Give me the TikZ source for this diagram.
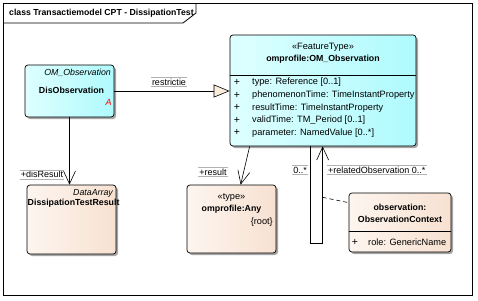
\documentclass[tikz,border=0pt]{standalone}
\usepackage{fontspec}
\setmainfont{Liberation Sans}
\usetikzlibrary{arrows.meta,calc,shadows}
\definecolor{cyanA}{RGB}{222,255,255}
\definecolor{cyanB}{RGB}{175,250,253}
\definecolor{peachA}{RGB}{253,245,239}
\definecolor{peachB}{RGB}{247,225,209}
\definecolor{trifill}{RGB}{250,236,218}
\begin{document}
\begin{tikzpicture}[x=1pt,y=-1pt,
  font=\fontsize{9.2}{10}\selectfont,
  boxbase/.style={draw, line width=0.7pt, rounded corners=3pt, inner sep=0pt,
    drop shadow={shadow xshift=2pt, shadow yshift=-2pt, fill=black!35, opacity=1}},
  cbox/.style={boxbase, left color=cyanA, right color=cyanB},
  pbox/.style={boxbase, left color=peachA, right color=peachB},
  txt/.style={inner sep=0pt},
  plus/.style={inner sep=0pt, font=\fontsize{10.5}{11}\selectfont},
  bold/.style={inner sep=0pt, font=\bfseries\fontsize{8.8}{10}\selectfont},
  ital/.style={inner sep=0pt, font=\itshape\fontsize{8.8}{10}\selectfont},
  lbl/.style={inner sep=1pt, font=\fontsize{9}{10}\selectfont,
    append after command={(\tikzlastnode.north west) edge[draw=black!30, line width=0.4pt] (\tikzlastnode.north east)
      (\tikzlastnode.south west) edge[draw=black!30, line width=0.4pt] (\tikzlastnode.south east)}},
  conn/.style={draw, line width=0.6pt},
  assoc/.style={conn, -{Straight Barb[length=13pt,width=12pt]}},
  gen/.style={conn, -{Triangle[length=16pt,width=13pt,fill=trifill]}}
]
\useasboundingbox (0,0) rectangle (478,300);
\fill[white] (0,0) rectangle (478,300);
% frame
\draw[line width=0.8pt] (3,3) rectangle (472,295);
\draw[line width=0.8pt] (3,23) -- (183,23) -- (196,13) -- (196,3);
\node[anchor=west, inner sep=0pt, font=\bfseries\fontsize{8.7}{9}\selectfont] (title) at (9,13) {class Transactiemodel CPT - DissipationTest};

% boxes
\node[cbox, minimum width=89pt, minimum height=52pt] (dis) at (69.5,91) {};
\node[cbox, minimum width=186pt, minimum height=111pt] (omobs) at (323,90.5) {};
\node[pbox, minimum width=89pt, minimum height=69pt] (dtr) at (71.5,219.5) {};
\node[pbox, minimum width=89pt, minimum height=68pt] (any) at (231.5,219) {};
\node[pbox, minimum width=102pt, minimum height=59pt] (ctx) at (400,222.5) {};

% separators
\draw[line width=0.7pt] ($(omobs.north west)+(0,41)$) -- ($(omobs.north east)+(0,41)$);
\draw[line width=0.7pt] ($(ctx.north west)+(0,39)$) -- ($(ctx.north east)+(0,39)$);

% DisObservation text
\node[ital, anchor=east] (disst) at (111,73) {OM\_Observation};
\node[bold] (disname) at (71.5,90) {DisObservation};
\node[txt, text=red, font=\itshape\fontsize{9}{10}\selectfont] (disA) at (108.5,102) {A};

% OM_Observation text
\node[txt] (omst) at (323,47) {«FeatureType»};
\node[bold] (omname) at (323,59.5) {omprofile:OM\_Observation};
\foreach \i/\t in {0/{type: Reference [0..1]},1/{phenomenonTime: TimeInstantProperty},2/{resultTime: TimeInstantProperty},3/{validTime: TM\_Period [0..1]},4/{parameter: NamedValue [0..*]}}{
  \node[plus] (omp\i) at (237,82.5+12.6*\i) {+};
  \node[txt, anchor=west] (oma\i) at (252,82.5+12.6*\i) {\t};
}

% DissipationTestResult text
\node[ital, anchor=east] (dtrst) at (113,193) {DataArray};
\node[bold, anchor=west] (dtrname) at (27.5,203.5) {DissipationTestResult};

% Any text
\node[txt] (anyst) at (231.5,197) {«type»};
\node[bold] (anyname) at (231.5,209.5) {omprofile:Any};
\node[txt, anchor=east] (anyroot) at (273,222) {\{root\}};

% ObservationContext text
\node[bold] (ctx1) at (400,207) {observation:};
\node[bold] (ctx2) at (400,219.5) {ObservationContext};
\node[plus] (ctxp) at (355,242) {+};
\node[txt, anchor=west] (ctxa) at (368,242) {role: GenericName};

% connectors
\draw[gen] (dis.east) -- (dis.east -| omobs.west);
\node[lbl] (lrestr) at (169,82) {restrictie};

\draw[assoc] (dis.south) -- (dis.south |- dtr.north);
\node[lbl] (ldis) at (42,174.5) {+disResult};

\draw[assoc] ($(omobs.south west)+(20,0)$) -- ($(any.north west)+(54,0)$);
\node[lbl] (lres) at (213,172) {+result};

\coordinate (sa1) at ($(omobs.south west)+(81,0)$);
\coordinate (sa2) at ($(omobs.south west)+(93,0)$);
\draw[assoc] (sa1) -- ++(0,97) -| (sa2);
\node[lbl] (lm1) at (300,170) {0..*};
\node[lbl, anchor=west] (lrel) at (327,170) {+relatedObservation 0..*};

\draw[conn, dash pattern=on 4pt off 3pt] ($(sa2)+(0,51)$) -- ($(ctx.north west)+(0,10)$);
\end{tikzpicture}
\end{document}
